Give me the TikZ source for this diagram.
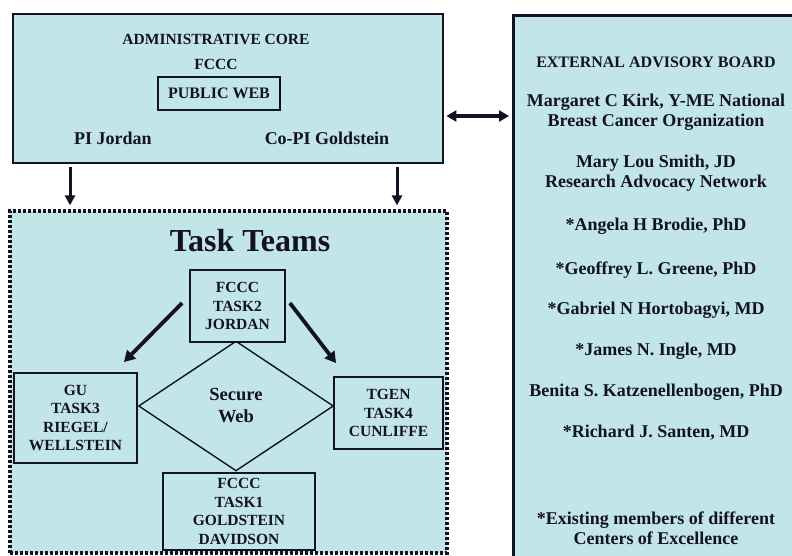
\documentclass[tikz,border=0pt]{standalone}
\usepackage{fontspec}
\setmainfont{Liberation Serif}
\usetikzlibrary{shapes.geometric,arrows.meta}
\definecolor{panel}{HTML}{C2E5E8}
\definecolor{ink}{HTML}{121224}

\tikzset{
  panelbox/.style={draw=ink,fill=panel,line width=2.8pt,inner sep=0pt},
  taskbox/.style={draw=ink,fill=panel,line width=1.8pt,inner sep=0pt,align=center,
    font=\fontsize{15.5}{18.5}\selectfont\bfseries},
  bigtext/.style={font=\fontsize{18}{19.5}\selectfont\bfseries,align=center,inner sep=0pt},
  captext/.style={font=\fontsize{15.5}{18}\selectfont\bfseries,inner sep=0pt},
  downarrow/.style={draw=ink,line width=3pt,-{Triangle[length=10pt,width=10pt]}},
  bigarrow/.style={draw=ink,line width=3.8pt,-{Triangle[length=11pt,width=12pt]}}
}

\begin{document}
\begin{tikzpicture}[x=1pt,y=-1pt,text=ink]
  \useasboundingbox (0,0) rectangle (792,556);
  \clip (0,0) rectangle (792,556);
  % ----- administrative core -----
  \node[panelbox,minimum width=430pt,minimum height=149pt] (admin) at (228,88.5) {};
  \node[captext] (admtitle) at (216,39) {ADMINISTRATIVE CORE};
  \node[captext] (admfccc) at (216,64) {FCCC};
  \node[draw=ink,line width=2pt,minimum width=122pt,minimum height=33pt,inner sep=0pt,
        font=\fontsize{16}{18}\selectfont\bfseries] (pubweb) at (219,93.5) {PUBLIC WEB};
  \node[bigtext] (pi) at (113,138) {PI Jordan};
  \node[bigtext] (copi) at (327,138) {Co-PI Goldstein};
  % ----- external advisory board -----
  \node[panelbox,minimum width=300pt,minimum height=560pt,anchor=north west] (board) at (512,14) {};
  \node[font=\fontsize{16}{18}\selectfont\bfseries,inner sep=0pt] (ebtitle) at (656,62) {EXTERNAL ADVISORY BOARD};
  \node[bigtext] (kirk) at (656,112) {Margaret C Kirk, Y-ME National\\Breast Cancer Organization};
  \node[bigtext] (smith) at (656,173) {Mary Lou Smith, JD\\Research Advocacy Network};
  \node[bigtext] (brodie) at (656,226) {*Angela H Brodie, PhD};
  \node[bigtext] (greene) at (656,270) {*Geoffrey L. Greene, PhD};
  \node[bigtext] (hortob) at (656,310) {*Gabriel N Hortobagyi, MD};
  \node[bigtext] (ingle) at (656,351) {*James N. Ingle, MD};
  \node[bigtext] (katz) at (656,392) {Benita S. Katzenellenbogen, PhD};
  \node[bigtext] (santen) at (656,433) {*Richard J. Santen, MD};
  \node[bigtext] (note) at (656,528) {*Existing members of different\\Centers of Excellence};
  % link
  \coordinate (link) at ([yshift=-27.5pt]admin.east);
  \draw[draw=ink,line width=3.4pt,{Triangle[length=10pt,width=11pt]}-{Triangle[length=10pt,width=11pt]}]
    ([xshift=2pt]link) -- ([xshift=-3pt]link -| board.west);
  % ----- task teams -----
  \node[panelbox,line width=3.2pt,dash pattern=on 3.2pt off 1.8pt,minimum width=437pt,minimum height=342pt] (teams) at (228.5,382) {};
  \draw[downarrow] ([shift={(-158,3)}]admin.south) -- ([shift={(-158.5,-4)}]teams.north);
  \draw[downarrow] ([shift={(169,3)}]admin.south) -- ([shift={(168.5,-4)}]teams.north);
  \node[font=\fontsize{32}{36}\selectfont\bfseries,inner sep=0pt] (ttitle) at (250,241) {Task Teams};
  \node[diamond,draw=ink,line width=1.4pt,minimum width=195pt,minimum height=130pt,inner sep=0pt,
        align=center,font=\fontsize{18.5}{22}\selectfont\bfseries] (web) at (236,406) {Secure\\Web};
  \node[taskbox,minimum width=95pt,minimum height=72pt] (task2) at (237.5,306) {FCCC\\TASK2\\JORDAN};
  \node[taskbox,minimum width=123pt,minimum height=90pt] (task3) at (75.5,418) {GU\\TASK3\\RIEGEL/\\WELLSTEIN};
  \node[taskbox,minimum width=109pt,minimum height=72pt] (task4) at (388.5,413) {TGEN\\TASK4\\CUNLIFFE};
  \node[taskbox,minimum width=152pt,minimum height=77pt] (task1) at (239,511.5) {FCCC\\TASK1\\GOLDSTEIN\\DAVIDSON};
  \draw[bigarrow] ([shift={(-7,-3)}]task2.west) -- ([shift={(-14,-10)}]task3.north east);
  \draw[bigarrow] ([shift={(4,-3)}]task2.east) -- ([shift={(3,-13)}]task4.north west);
\end{tikzpicture}
\end{document}
